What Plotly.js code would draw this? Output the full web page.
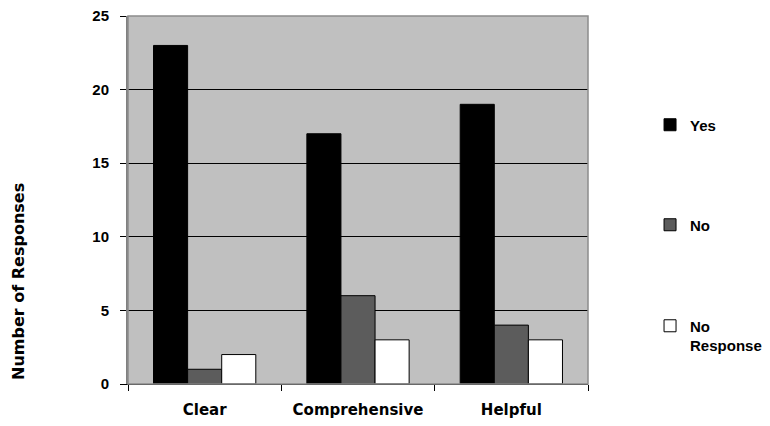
<!DOCTYPE html>
<html>
<head>
<meta charset="utf-8">
<script src="https://cdn.plot.ly/plotly-3.0.1.min.js"></script>
<style>
  html, body { margin: 0; padding: 0; background: #ffffff; }
  #chart { width: 770px; height: 426px; }
</style>
</head>
<body>
<div id="chart"></div>
<script>
// Survey responses per document quality criterion
const categories = ['Clear', 'Comprehensive', 'Helpful'];
const yesCounts = [23, 17, 19];
const noCounts = [1, 6, 4];
const noResponseCounts = [2, 3, 3];
const seriesNames = ['Yes', 'No', 'No<br>Response'];
const yTickValues = [0, 5, 10, 15, 20, 25];
const yTickLabels = ['0', '5', '10', '15', '20', '25'];

const barOutline = { color: '#000000', width: 1 };

const traces = [
  { type: 'bar', name: seriesNames[0], x: categories, y: yesCounts,
    marker: { color: '#000000', line: barOutline }, legend: 'legend' },
  { type: 'bar', name: seriesNames[1], x: categories, y: noCounts,
    marker: { color: '#5c5c5c', line: barOutline }, legend: 'legend2' },
  { type: 'bar', name: seriesNames[2], x: categories, y: noResponseCounts,
    marker: { color: '#ffffff', line: barOutline }, legend: 'legend3' }
];

// Each legend entry sits in its own box, spread down the right-hand side
const legendFont = { family: 'Liberation Sans, Arial, sans-serif', size: 15, color: '#000000', weight: 'bold' };
function legendAt(y, extra) {
  return Object.assign({
    x: 0.8442, xanchor: 'left', xref: 'container',
    y: y, yanchor: 'middle', yref: 'container',
    bgcolor: 'rgba(0,0,0,0)', borderwidth: 0,
    font: legendFont,
    itemclick: false, itemdoubleclick: false
  }, extra || {});
}

const layout = {
  width: 770,
  height: 426,
  margin: { l: 128, r: 182, t: 16, b: 42 },
  paper_bgcolor: '#ffffff',
  plot_bgcolor: '#c0c0c0',
  barmode: 'group',
  bargap: 0.333,
  bargroupgap: 0,
  showlegend: true,
  legend: legendAt(0.7066),
  legend2: legendAt(0.4718),
  legend3: legendAt(0.2124, { valign: 'top' }),
  xaxis: {
    type: 'category',
    showgrid: false,
    showline: true,
    linecolor: '#000000',
    linewidth: 1,
    ticks: 'outside',
    tickson: 'boundaries',
    ticklen: 6,
    tickcolor: '#000000',
    ticklabelstandoff: 12,
    tickfont: { family: 'DejaVu Sans, sans-serif', size: 15, color: '#000000', weight: 'bold' }
  },
  yaxis: {
    range: [0, 25],
    tickvals: yTickValues,
    ticktext: yTickLabels,
    showgrid: true,
    gridcolor: '#000000',
    gridwidth: 1,
    zeroline: false,
    showline: true,
    linecolor: '#808080',
    linewidth: 2,
    ticks: 'outside',
    ticklen: 6,
    tickcolor: '#000000',
    ticklabelstandoff: 8,
    tickfont: { family: 'Liberation Sans, Arial, sans-serif', size: 15, color: '#000000', weight: 'bold' }
  },
  shapes: [
    { type: 'rect', xref: 'paper', yref: 'paper', x0: 0, x1: 1, y0: 0, y1: 1,
      line: { color: '#8c8c8c', width: 1.5 }, fillcolor: 'rgba(0,0,0,0)', layer: 'above' }
  ],
  annotations: [
    { text: 'Number of Responses', textangle: -90,
      xref: 'paper', yref: 'paper', x: -0.237, y: 0.28,
      xanchor: 'center', yanchor: 'middle', showarrow: false,
      font: { family: 'DejaVu Sans, sans-serif', size: 16, color: '#000000', weight: 'bold' } }
  ]
};

Plotly.newPlot('chart', traces, layout, { displayModeBar: false, staticPlot: true });
</script>
</body>
</html>
